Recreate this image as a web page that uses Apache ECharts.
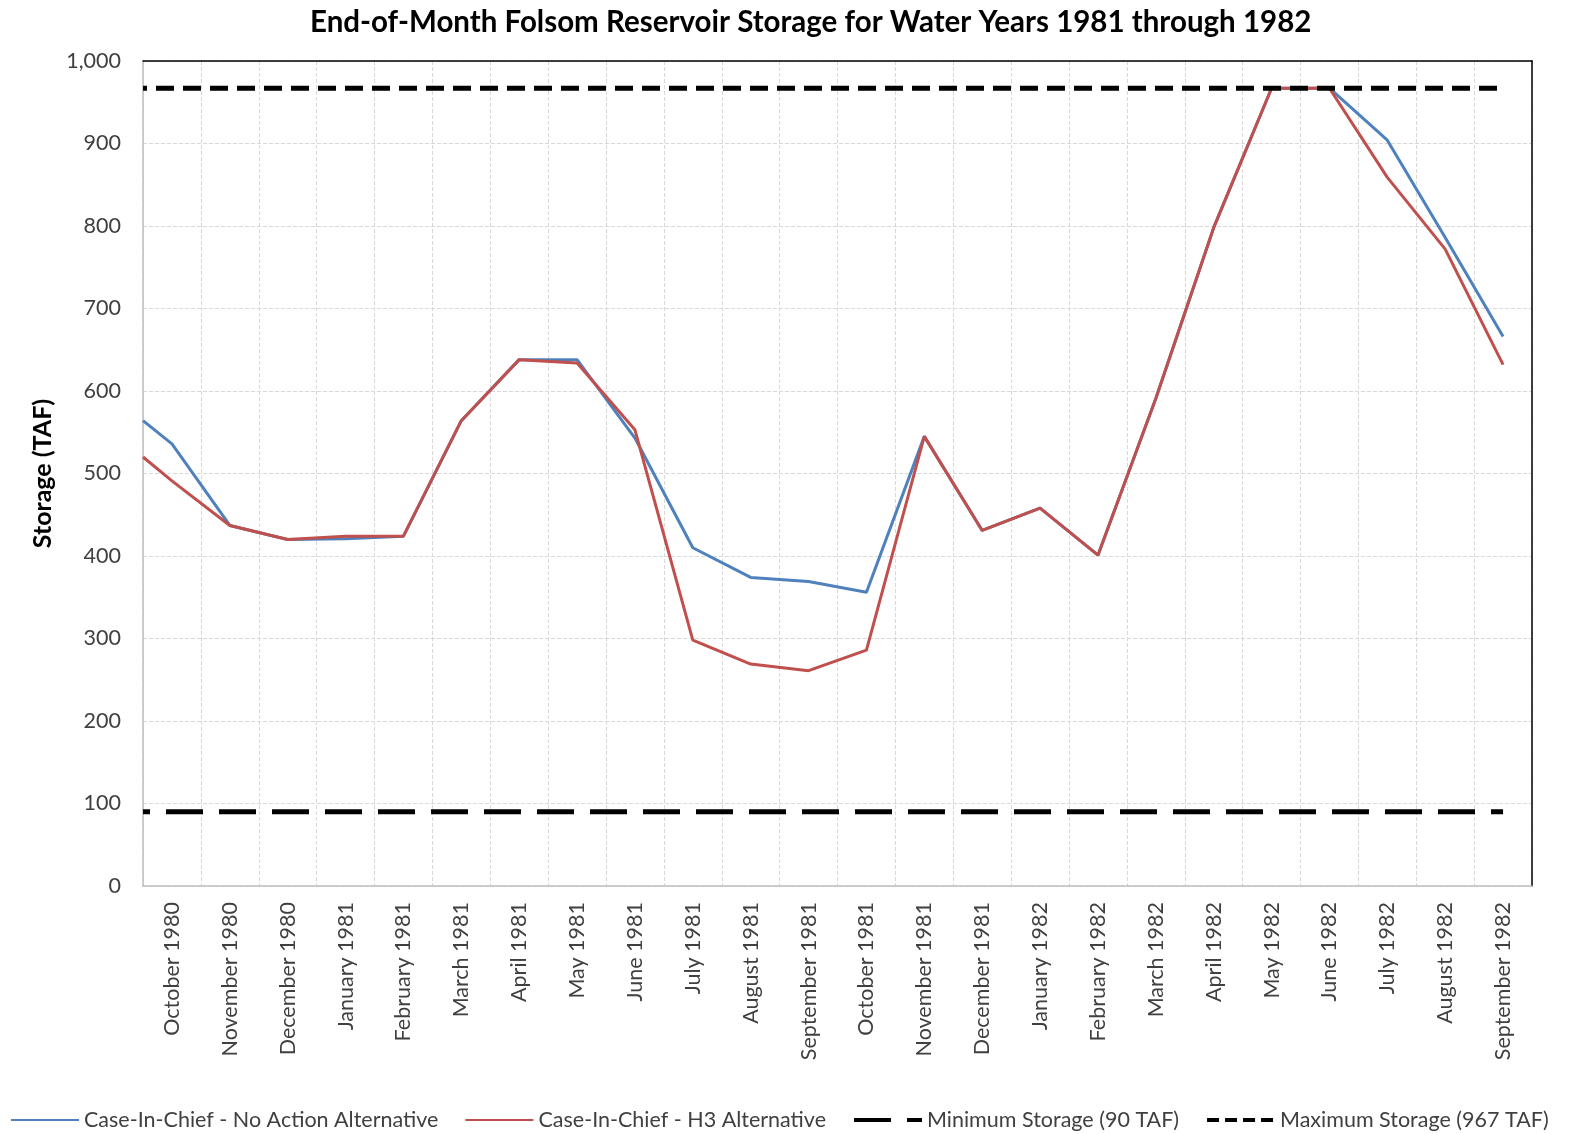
<!DOCTYPE html>
<html lang="en">
<head>
    <meta charset="UTF-8">
    <title>Folsom Reservoir Storage</title>
    <style>
        * { margin: 0; padding: 0; }
        #chart { width: 1572px; height: 1134px; }
    </style>
    <script src="https://cdn.jsdelivr.net/npm/echarts@6/dist/echarts.min.js"></script>
</head>
<body>
    <div id="chart"></div>
    <script>
        var months = ['October 1980', 'November 1980', 'December 1980', 'January 1981', 'February 1981',
            'March 1981', 'April 1981', 'May 1981', 'June 1981', 'July 1981', 'August 1981',
            'September 1981', 'October 1981', 'November 1981', 'December 1981', 'January 1982',
            'February 1982', 'March 1982', 'April 1982', 'May 1982', 'June 1982', 'July 1982',
            'August 1982', 'September 1982']
        // first value = starting storage (end of Sep 1980), drawn at left edge
        var positions = [-0.5, 0, 1, 2, 3, 4, 5, 6, 7, 8, 9, 10, 11, 12, 13, 14, 15, 16, 17, 18, 19, 20, 21, 22, 23]
        var noAction = [564, 536, 437, 420, 421, 424, 564, 638, 638, 543, 410, 374, 369, 356, 545, 431, 458, 401, 591, 798, 967, 967, 904, 786, 666]
        var h3 = [520, 491, 437, 420, 424, 424, 564, 638, 634, 553, 298, 269, 261, 286, 545, 431, 458, 401, 591, 798, 967, 967, 859, 772, 632]
        var minStorage = 90
        var maxStorage = 967
        var yTicks = [0, 1000, 100]
        var names = ['Case-In-Chief - No Action Alternative', 'Case-In-Chief - H3 Alternative',
            'Minimum Storage (90 TAF)', 'Maximum Storage (967 TAF)']

        var font = 'Lato'
        var txt = '#404040'

        function pairs(vals) {
            return positions.map((p, i) => [p, vals[i]])
        }
        function flat(v) {
            return positions.map(p => [p, v])
        }

        var chart = echarts.init(document.getElementById('chart'))
        var option = {
            backgroundColor: '#fff',
            animation: false,
            textStyle: { fontFamily: font },
            title: {
                text: 'End-of-Month Folsom Reservoir Storage for Water Years 1981 through 1982',
                left: 305,
                top: 2,
                textStyle: { fontFamily: font, fontSize: 29.5, fontWeight: 'bold', color: '#000' }
            },
            legend: {
                top: 1104,
                left: 5,
                width: 1566,
                itemWidth: 68,
                itemHeight: 12,
                itemGap: 26,
                itemStyle: { opacity: 0 },
                textStyle: { fontFamily: font, fontSize: 21.5, color: txt },
                data: [
                    { name: names[0] },
                    { name: names[1] },
                    { name: names[2], lineStyle: { width: 4, type: [37, 16], dashOffset: 0 } },
                    { name: names[3], lineStyle: { width: 4, type: [12, 6], dashOffset: 0 } }
                ]
            },
            grid: { left: 143, right: 40, top: 61, bottom: 248 },
            xAxis: [{
                type: 'category',
                data: months,
                boundaryGap: true,
                axisLine: { lineStyle: { color: '#bfbfbf', width: 1.5 } },
                axisTick: { show: false },
                axisLabel: { rotate: 90, margin: 16, fontSize: 21.5, color: txt, fontFamily: font },
                splitLine: { show: true, lineStyle: { type: 'dashed', color: '#d9d9d9' } }
            }, {
                type: 'value',
                position: 'top',
                min: -0.5,
                max: 23.5,
                axisLine: { show: true, onZero: false, lineStyle: { color: '#000', width: 1.5 } },
                axisTick: { show: false },
                axisLabel: { show: false },
                splitLine: { show: false }
            }],
            yAxis: [{
                type: 'value',
                min: yTicks[0],
                max: yTicks[1],
                interval: yTicks[2],
                name: 'Storage (TAF)',
                nameLocation: 'middle',
                nameGap: 86,
                nameTextStyle: { fontFamily: font, fontSize: 25, fontWeight: 'bold', color: '#000' },
                axisLine: { show: true, onZero: false, lineStyle: { color: '#bfbfbf', width: 1.5 } },
                axisTick: { show: false },
                axisLabel: {
                    margin: 22, fontSize: 21.5, color: txt, fontFamily: font,
                    formatter: v => String(v).replace(/\B(?=(\d{3})+(?!\d))/g, ',')
                },
                splitLine: { lineStyle: { type: 'dashed', color: '#d9d9d9' } }
            }, {
                type: 'value',
                position: 'right',
                min: yTicks[0],
                max: yTicks[1],
                axisLine: { show: true, onZero: false, lineStyle: { color: '#000', width: 1.5 } },
                axisTick: { show: false },
                axisLabel: { show: false },
                splitLine: { show: false }
            }],
            series: [{
                name: names[0],
                type: 'line',
                xAxisIndex: 1,
                symbol: 'none',
                color: '#4f81bd',
                lineStyle: { width: 3, color: '#4f81bd' },
                data: pairs(noAction)
            }, {
                name: names[1],
                type: 'line',
                xAxisIndex: 1,
                symbol: 'none',
                color: '#c0504d',
                lineStyle: { width: 3, color: '#c0504d' },
                data: pairs(h3)
            }, {
                name: names[2],
                type: 'line',
                xAxisIndex: 1,
                symbol: 'none',
                color: '#000',
                lineStyle: { width: 5, color: '#000', type: [37, 16], dashOffset: 30 },
                data: flat(minStorage)
            }, {
                name: names[3],
                type: 'line',
                xAxisIndex: 1,
                symbol: 'none',
                color: '#000',
                lineStyle: { width: 5, color: '#000', type: [18, 9], dashOffset: 14 },
                data: flat(maxStorage)
            }]
        }
        chart.setOption(option)
    </script>
</body>
</html>
